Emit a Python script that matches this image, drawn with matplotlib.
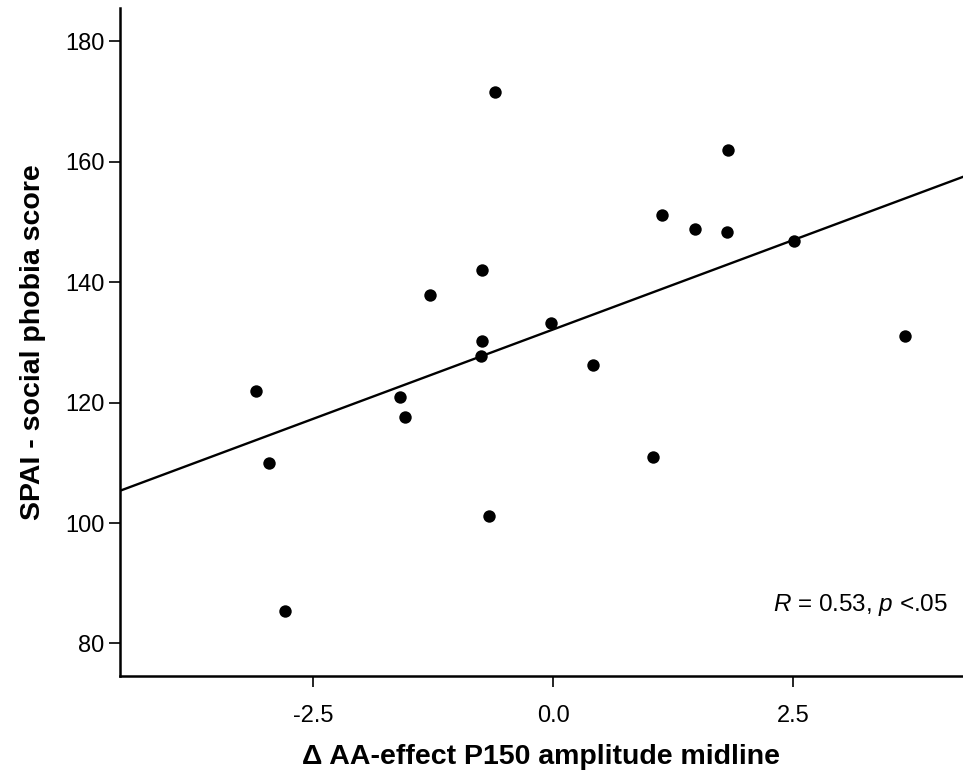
import numpy as np
import matplotlib.pyplot as plt

plt.rcParams['font.family'] = ['Liberation Sans', 'DejaVu Sans']
plt.rcParams['mathtext.fontset'] = 'custom'
plt.rcParams['mathtext.it'] = 'Liberation Sans:italic'
plt.rcParams['mathtext.rm'] = 'Liberation Sans'

# values
aa_effect = [-0.60, 1.82, 1.13, 1.48, 1.81, -0.74, -1.28, -0.02, -0.74, -0.75,
             0.42, -3.09, -1.59, -1.54, 1.04, -2.96, -0.67, -2.79, 2.51, 3.67]
spai = [171.6, 162.0, 151.2, 148.9, 148.4, 142.1, 137.9, 133.3, 130.2, 127.8,
        126.3, 122.0, 120.9, 117.6, 110.9, 110.0, 101.2, 85.4, 146.9, 131.0]

x_ticks = [-2.5, 0.0, 2.5]
y_ticks = [80, 100, 120, 140, 160, 180]


def main():
    x = np.array(aa_effect)
    y = np.array(spai)

    fig = plt.figure(figsize=(9.63, 7.71), dpi=100)
    ax = fig.add_axes([0.1246, 0.1232, 0.8754, 0.867])

    ax.scatter(x, y, s=80, color='black', zorder=3, linewidths=0)

    xlim = (-4.51, 4.27)
    slope, intercept = np.polyfit(x, y, 1)
    xs = np.array(xlim)
    ax.plot(xs, slope * xs + intercept, color='black', lw=1.7)

    ax.set_xlim(*xlim)
    ax.set_ylim(74.6, 185.6)
    ax.set_xticks(x_ticks)
    ax.set_xticklabels(['%.1f' % t for t in x_ticks])
    ax.set_yticks(y_ticks)

    for side in ['top', 'right']:
        ax.spines[side].set_visible(False)
    for side in ['left', 'bottom']:
        ax.spines[side].set_linewidth(1.8)
    ax.tick_params(direction='out', length=8, width=1.2, labelsize=17)
    ax.tick_params(axis='y', pad=3)
    ax.tick_params(axis='x', pad=13)

    ax.set_xlabel('Δ AA-effect P150 amplitude midline', fontsize=20.5,
                  fontweight='bold', labelpad=12)
    ax.set_ylabel('SPAI - social phobia score', fontsize=20.5,
                  fontweight='bold', labelpad=14)

    ax.text(0.982, 0.106, r'$R$ = 0.53, $p$ <.05', transform=ax.transAxes,
            ha='right', va='center', fontsize=17.5)

    fig.savefig('out.png', dpi=100)
    plt.close(fig)


if __name__ == "__main__":
    main()
